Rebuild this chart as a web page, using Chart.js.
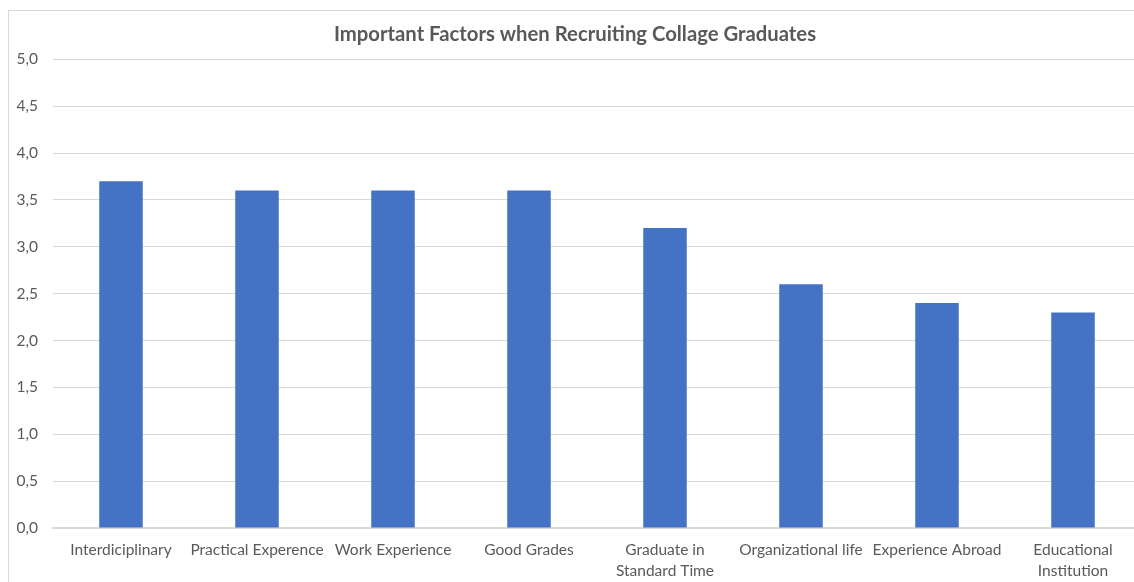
<!DOCTYPE html>
<html>
<head>
<meta charset="utf-8">
<script src="https://cdn.jsdelivr.net/npm/chart.js@4"></script>
<style>
  html, body { margin: 0; padding: 0; background: #fff; overflow: hidden; }
  #frame {
    position: absolute; left: 8px; top: 10px;
    width: 1180px; height: 600px;
    border: 1px solid #d9d9d9;
    border-right: none;
  }
</style>
</head>
<body>
<div id="frame"><canvas id="myChart" width="1140" height="600"></canvas></div>
<script>
var factors = ['Interdiciplinary', 'Practical Experence', 'Work Experience', 'Good Grades',
  ['Graduate in', 'Standard Time'], 'Organizational life', 'Experience Abroad',
  ['Educational', 'Institution']];
var scores = [3.7, 3.6, 3.6, 3.6, 3.2, 2.6, 2.4, 2.3];
var yTicks = [0, 0.5, 1, 1.5, 2, 2.5, 3, 3.5, 4, 4.5, 5];

var txt = '#595959';
var grid = '#d9d9d9';

var data = {
  labels: factors,
  datasets: [{
    label: 'Score',
    data: scores,
    backgroundColor: '#4472C4',
    borderWidth: 0,
    categoryPercentage: 1,
    barPercentage: 0.32
  }]
};

var config = {
  type: 'bar',
  data: data,
  options: {
    responsive: false,
    animation: false,
    layout: { padding: { left: 0, right: 8, top: 0, bottom: 0 } },
    plugins: {
      legend: { display: false },
      tooltip: { enabled: false },
      title: {
        display: true,
        text: 'Important Factors when Recruiting Collage Graduates',
        color: txt,
        font: { family: 'Lato', size: 20.3, weight: 'bold' },
        padding: { top: 11, bottom: 13 }
      }
    },
    scales: {
      x: {
        grid: { display: false, drawTicks: false },
        border: { color: grid, width: 2 },
        ticks: {
          color: txt,
          font: { family: 'Lato', size: 15.5, lineHeight: 1.35 },
          padding: 12,
          maxRotation: 0,
          autoSkip: false
        },
        afterFit: function(scale) { scale.height = 83; }
      },
      y: {
        min: 0,
        max: 5,
        afterBuildTicks: function(scale) {
          scale.ticks = yTicks.map(function(v) { return { value: v }; });
        },
        grid: { color: grid, drawTicks: false },
        border: { display: false },
        ticks: {
          color: txt,
          font: { family: 'Lato', size: 15.5 },
          padding: 15,
          callback: function(v) { return Number(v).toFixed(1).replace('.', ','); }
        },
        afterFit: function(scale) { scale.width = 44; }
      }
    }
  }
};

var ctx = document.getElementById('myChart').getContext('2d');
var mychart = new Chart(ctx, config);
</script>
</body>
</html>
